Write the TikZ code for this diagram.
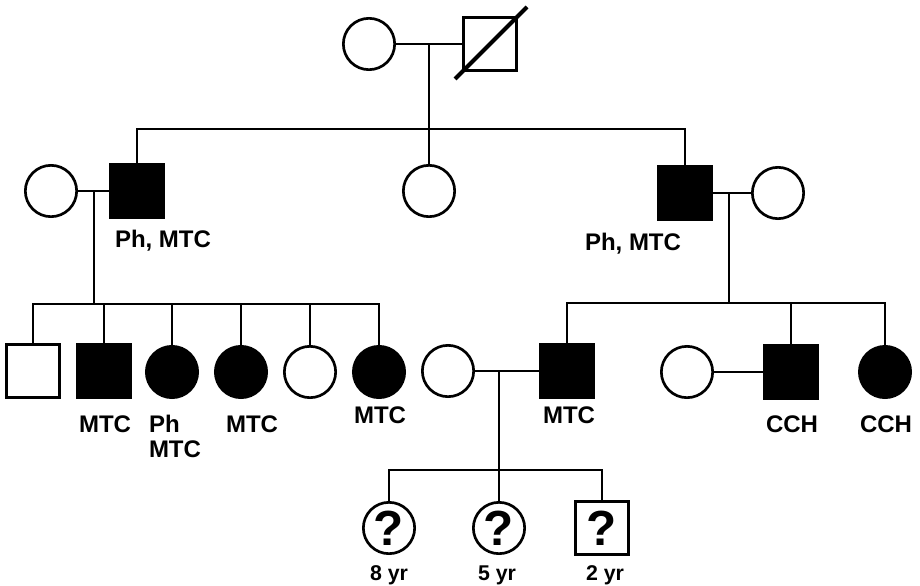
\documentclass[tikz,border=0pt]{standalone}
\usepackage{fontspec}
\setmainfont{Liberation Sans}
\begin{document}
\begin{tikzpicture}[x=0.75pt,y=-0.75pt,line width=1.5pt,
  fem/.style={circle,draw,line width=2pt,minimum size=38.5pt,inner sep=0pt},
  mal/.style={rectangle,draw,line width=2pt,minimum size=39.5pt,inner sep=0pt},
  aff/.style={fill=black},
  lbl/.style={font=\fontsize{18}{18.75}\selectfont\bfseries,inner sep=0pt},
  age/.style={font=\fontsize{16}{18}\selectfont\bfseries,inner sep=0pt},
  unk/.style={font=\fontsize{37}{40}\selectfont\bfseries}]
  \useasboundingbox (0,0) rectangle (920,585);
  \node[fem] (I1) at (369,44) {};
  \node[mal] (I2) at (490,44) {};
  \draw[line width=3pt] ([shift={(-35,35)}]I2.center) -- ([shift={(37,-37)}]I2.center);
  \coordinate (m1) at (429,44);
  \coordinate (s1) at (429,129);
  \draw (I1) -- (I2);
  \draw (m1) -- (s1);
  \node[fem] (II1) at (51,191) {};
  \node[mal,aff] (II2) at (137,191) {};
  \node[fem] (II3) at (429,191) {};
  \node[mal,aff] (II4) at (685,193) {};
  \node[fem] (II5) at (778,193) {};
  \draw (II2.north) |- (s1) -| (II4.north);
  \draw (s1) -- (II3.north);
  \node[lbl] at (163,247) [anchor=base] {Ph, MTC};
  \node[lbl] at (633,250) [anchor=base] {Ph, MTC};
  \draw (II1) -- (II2);
  \draw (II4) -- (II5);
  \coordinate (m2) at (94,191);
  \coordinate (s2) at (94,304);
  \coordinate (m3) at (729,193);
  \coordinate (s3) at (729,303);
  \draw (m2) -- (s2);
  \draw (m3) -- (s3);
  \node[mal] (III1) at (33,371) {};
  \node[mal,aff] (III2) at (104,371) {};
  \node[fem,aff] (III3) at (172,372) {};
  \node[fem,aff] (III4) at (241,372) {};
  \node[fem] (III5) at (310,372) {};
  \node[fem,aff] (III6) at (379,372) {};
  \draw (III1.north) |- (s2) -| (III6.north);
  \foreach \i in {2,...,5} \draw (III\i.north) -- (III\i.north |- s2);
  \node[fem] (III7) at (448,371) {};
  \node[mal,aff] (III8) at (567,371) {};
  \node[fem] (III9) at (687,372) {};
  \node[mal,aff] (III10) at (791,372) {};
  \node[fem,aff] (III11) at (885,372) {};
  \draw (III8.north) |- (s3) -| (III11.north);
  \draw (III10.north) -- (III10.north |- s3);
  \draw (III7) -- (III8);
  \draw (III9) -- (III10);
  \node[lbl] at (105,432) [anchor=base] {MTC};
  \node[lbl,align=left] at (148,414) [anchor=north west] {Ph\\MTC};
  \node[lbl] at (252,432) [anchor=base] {MTC};
  \node[lbl] at (380,423) [anchor=base] {MTC};
  \node[lbl] at (569,423) [anchor=base] {MTC};
  \node[lbl] at (792,432) [anchor=base] {CCH};
  \node[lbl] at (886,432) [anchor=base] {CCH};
  \coordinate (m4) at (499,371);
  \coordinate (s4) at (499,470);
  \draw (m4) -- (s4);
  \node[fem] (IV1) at (389,528) {};
  \node[fem] (IV2) at (499,528) {};
  \node[mal] (IV3) at (602,528) {};
  \draw (IV1.north) |- (s4) -| (IV3.north);
  \draw (s4) -- (IV2.north);
  \foreach \n in {IV1,IV2,IV3} \node[unk] at (\n) {?};
  \node[age] at (389,580) [anchor=base] {8 yr};
  \node[age] at (497,580) [anchor=base] {5 yr};
  \node[age] at (605,580) [anchor=base] {2 yr};
\end{tikzpicture}
\end{document}
